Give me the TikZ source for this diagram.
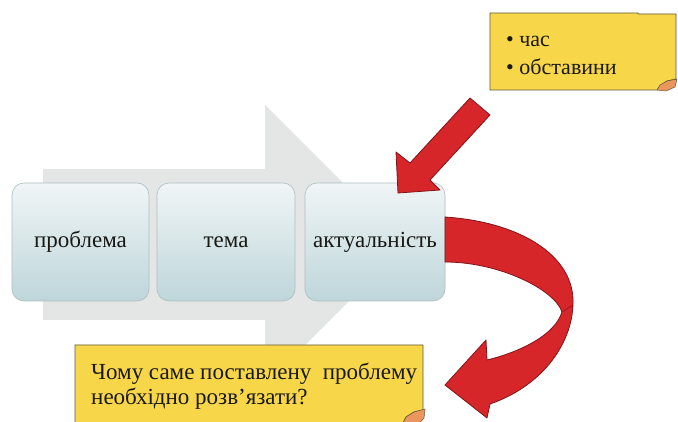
\documentclass[tikz,border=0pt]{standalone}
\usepackage{fontspec}
\setmainfont{Liberation Serif}
\definecolor{arrowgray}{RGB}{228,230,230}
\definecolor{boxtop}{RGB}{240,245,246}
\definecolor{boxbot}{RGB}{190,214,218}
\definecolor{boxline}{RGB}{175,190,192}
\definecolor{notefill}{RGB}{248,214,74}
\definecolor{noteline}{RGB}{95,90,60}
\definecolor{curlfill}{RGB}{236,150,95}
\definecolor{redfill}{RGB}{214,38,42}
\definecolor{redline}{RGB}{130,20,25}
\definecolor{inktext}{RGB}{25,25,20}
\tikzset{
  stagebox/.style={draw=boxline, line width=0.6pt, rounded corners=12pt,
    top color=boxtop, bottom color=boxbot, font=\fontsize{23}{26}\selectfont,
    text=inktext, inner sep=0pt, minimum height=118pt},
  notebox/.style={fill=notefill, draw=noteline, line width=0.8pt},
  curl/.style={fill=curlfill, draw=noteline, line width=0.5pt},
  redarrow/.style={fill=redfill, draw=redline, line width=0.8pt, line join=round},
  toptext/.style={anchor=base west, inner sep=0pt, text=inktext, font=\fontsize{22}{28}\selectfont},
  bottext/.style={anchor=base west, inner sep=0pt, text=inktext, font=\fontsize{23}{25}\selectfont}
}
\begin{document}
\begin{tikzpicture}[x=1pt,y=-1pt]
\useasboundingbox (0,0) rectangle (678,422);
\clip (0,0) rectangle (678,422);
\fill[white] (0,0) rectangle (678,422);
% big gray arrow
\fill[arrowgray] (43,169) -- (265,169) -- (265,105) -- (405,245) -- (265,385) -- (265,320) -- (43,320) -- cycle;
% stage boxes
\node[stagebox, minimum width=137pt] (b1) at (80.5,242) {проблема};
\node[stagebox, minimum width=138pt] (b2) at (226,242) {тема};
\node[stagebox, minimum width=140pt] (b3) at (375,242) {актуальність};
% top note
\draw[notebox] (490,13) -- (638,13) -- (638,14) -- (676,14) -- (676,79) -- (667,81) -- (660,86) -- (657,90) -- (490,90) -- cycle;
\draw[curl] (657,90) -- (660,85) -- (667,81) -- (677,79) -- (675,87) -- (666,91) -- cycle;
\node[toptext] (tn1) at (506,47) {\textbullet\ час};
\node[toptext] (tn2) at (506,75) {\textbullet\ обставини};
% bottom note
\draw[notebox] (75,345) -- (423,345) -- (423,410) -- (414,412) -- (406,417) -- (402,425) -- (75,425) -- cycle;
\draw[curl] (402,425) -- (406,417) -- (414,412) -- (425,409) -- (424,418) -- (418,425) -- cycle;
\node[bottext] (bn1) at (91,380) {Чому саме поставлену\ \ проблему};
\node[bottext] (bn2) at (91,404) {необхідно розв’язати?};
% straight red arrow
\draw[redarrow] (490,115) -- (470,98) -- (410,163) -- (396,152) -- (398,193) -- (440,190) -- (430,180) -- cycle;
% curved red arrow
\draw[redarrow] (445,217) .. controls (520,222) and (572,255) .. (573,300)
  .. controls (574,340) and (545,385) .. (490,404)
  -- (487,418) -- (445,385) -- (486,340) -- (487,360)
  .. controls (520,352) and (555,335) .. (562,312)
  .. controls (555,290) and (500,262) .. (445,262) -- cycle;
\draw[redline, line width=0.6pt] (562,312) -- (573,305);
\end{tikzpicture}
\end{document}
